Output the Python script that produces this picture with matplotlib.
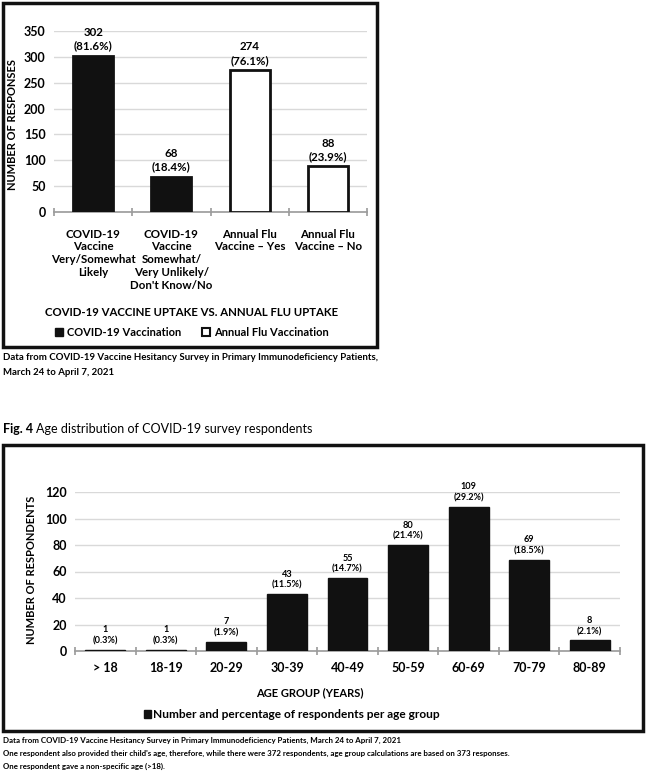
import matplotlib
matplotlib.use("Agg")
import matplotlib.pyplot as plt
from matplotlib.patches import Patch, Rectangle

plt.rcParams['font.family'] = ['Lato', 'DejaVu Sans']

# top chart data
flu_cats = ['COVID-19\nVaccine\nVery/Somewhat\nLikely',
            'COVID-19\nVaccine\nSomewhat/\nVery Unlikely/\nDon\'t Know/No',
            'Annual Flu\nVaccine – Yes',
            'Annual Flu\nVaccine – No']
flu_vals = [302, 68, 274, 88]
flu_pcts = ['81.6%', '18.4%', '76.1%', '23.9%']
flu_kind = ['covid', 'covid', 'flu', 'flu']

# bottom chart data
age_cats = ['> 18', '18-19', '20-29', '30-39', '40-49', '50-59', '60-69', '70-79', '80-89']
age_vals = [1, 1, 7, 43, 55, 80, 109, 69, 8]
age_pcts = ['0.3%', '0.3%', '1.9%', '11.5%', '14.7%', '21.4%', '29.2%', '18.5%', '2.1%']

W, H = 646, 778
fig = plt.figure(figsize=(W / 100, H / 100), dpi=100)


def fx(x):
    return x / W


def fy(y):
    return 1 - y / H


def axes_px(left, top, right, bottom):
    return fig.add_axes([fx(left), fy(bottom), (right - left) / W, (bottom - top) / H])


def style_axes(ax, n, xsize, xpad):
    for s in ['top', 'right', 'left']:
        ax.spines[s].set_visible(False)
    ax.spines['bottom'].set_color('#9a9a9a')
    ax.spines['bottom'].set_linewidth(1.2)
    ax.yaxis.grid(True, color='#d9d9d9', linewidth=1.0)
    ax.set_axisbelow(True)
    ax.tick_params(axis='y', length=0, labelsize=9, pad=6)
    ax.tick_params(axis='x', which='major', length=0, labelsize=xsize, pad=xpad)
    ax.set_xticks([i - 0.5 for i in range(n + 1)], minor=True)
    ax.tick_params(axis='x', which='minor', length=6, direction='inout', color='#9a9a9a', width=1.2)
    for lab in ax.get_yticklabels() + ax.get_xticklabels():
        lab.set_fontweight('bold')


# ---- top chart ----
ax1 = axes_px(54, 31, 367, 212)
colors = ['#111111' if k == 'covid' else 'white' for k in flu_kind]
ax1.bar(range(len(flu_vals)), flu_vals, width=0.51, color=colors, edgecolor='#111111', linewidth=2, zorder=3)
ax1.set_xlim(-0.5, len(flu_vals) - 0.5)
ax1.set_ylim(0, 350)
ax1.set_yticks(range(0, 351, 50))
ax1.set_xticks(range(len(flu_vals)))
ax1.set_xticklabels(flu_cats, linespacing=1.2, va='top')
style_axes(ax1, len(flu_vals), 8.3, 12)
for i, (v, p) in enumerate(zip(flu_vals, flu_pcts)):
    ax1.annotate(f'{v}\n({p})', (i, v), xytext=(0, 3), textcoords='offset points',
                 ha='center', va='bottom', fontsize=8.3, fontweight='bold', linespacing=1.3)

fig.text(fx(13), fy(125), 'NUMBER OF RESPONSES', rotation=90, ha='center', va='center',
         fontsize=8, fontweight='bold')
fig.text(fx(192), fy(313), 'COVID-19 VACCINE UPTAKE VS. ANNUAL FLU UPTAKE', ha='center', va='center',
         fontsize=8.2, fontweight='bold')
fig.legend(handles=[Patch(facecolor='#111111', edgecolor='#111111'),
                    Patch(facecolor='white', edgecolor='#111111', linewidth=1.5)],
           labels=['COVID-19 Vaccination', 'Annual Flu Vaccination'],
           loc='center', bbox_to_anchor=(fx(192), fy(332)), ncol=2, frameon=False,
           handlelength=0.7, handleheight=0.7, handletextpad=0.4, columnspacing=1.8,
           prop={'size': 8, 'weight': 'bold'})
fig.patches.append(Rectangle((fx(3), fy(347)), (377 - 3) / W, (347 - 3) / H, transform=fig.transFigure,
                             fill=False, edgecolor='#111111', linewidth=2.5))
fig.text(fx(3), fy(358), 'Data from COVID-19 Vaccine Hesitancy Survey in Primary Immunodeficiency Patients,',
         ha='left', va='center', fontsize=6.9, fontweight='bold')
fig.text(fx(3), fy(372), 'March 24 to April 7, 2021', ha='left', va='center', fontsize=6.9,
         fontweight='bold')

# ---- caption of fig 4 ----
fig.text(fx(3), fy(429), 'Fig. 4', ha='left', va='center', fontsize=9, fontweight='bold')
fig.text(fx(36), fy(429), 'Age distribution of COVID-19 survey respondents', ha='left', va='center',
         fontsize=9)

# ---- bottom chart ----
ax2 = axes_px(75, 492, 620, 651)
ax2.bar(range(len(age_vals)), age_vals, width=0.66, color='#111111', edgecolor='#111111', zorder=3)
ax2.set_xlim(-0.5, len(age_vals) - 0.5)
ax2.set_ylim(0, 120)
ax2.set_yticks(range(0, 121, 20))
ax2.set_xticks(range(len(age_vals)))
ax2.set_xticklabels(age_cats)
style_axes(ax2, len(age_vals), 9, 8)
for i, (v, p) in enumerate(zip(age_vals, age_pcts)):
    ax2.annotate(f'{v}\n({p})', (i, v), xytext=(0, 3), textcoords='offset points',
                 ha='center', va='bottom', fontsize=6.6, fontweight='bold', linespacing=1.3)

fig.text(fx(32), fy(570), 'NUMBER OF RESPONDENTS', rotation=90, ha='center', va='center',
         fontsize=8, fontweight='bold')
fig.text(fx(310), fy(693), 'AGE GROUP (YEARS)', ha='center', va='center', fontsize=8, fontweight='bold')
fig.legend(handles=[Patch(facecolor='#111111', edgecolor='#111111')],
           labels=['Number and percentage of respondents per age group'],
           loc='center', bbox_to_anchor=(fx(292), fy(715)), frameon=False,
           handlelength=0.6, handleheight=0.6, handletextpad=0.2,
           prop={'size': 8.6, 'weight': 'bold'})
fig.patches.append(Rectangle((fx(3), fy(731)), (643 - 3) / W, (731 - 445) / H, transform=fig.transFigure,
                             fill=False, edgecolor='#111111', linewidth=2.5))

notes = ['Data from COVID-19 Vaccine Hesitancy Survey in Primary Immunodeficiency Patients, March 24 to April 7, 2021',
         'One respondent also provided their child\'s age, therefore, while there were 372 respondents, '
         'age group calculations are based on 373 responses.',
         'One respondent gave a non-specific age (>18).']
for k, line in enumerate(notes):
    fig.text(fx(3), fy(740 + 13 * k), line, ha='left', va='center', fontsize=5.65, fontweight='bold')

fig.savefig('out.png', dpi=100)
